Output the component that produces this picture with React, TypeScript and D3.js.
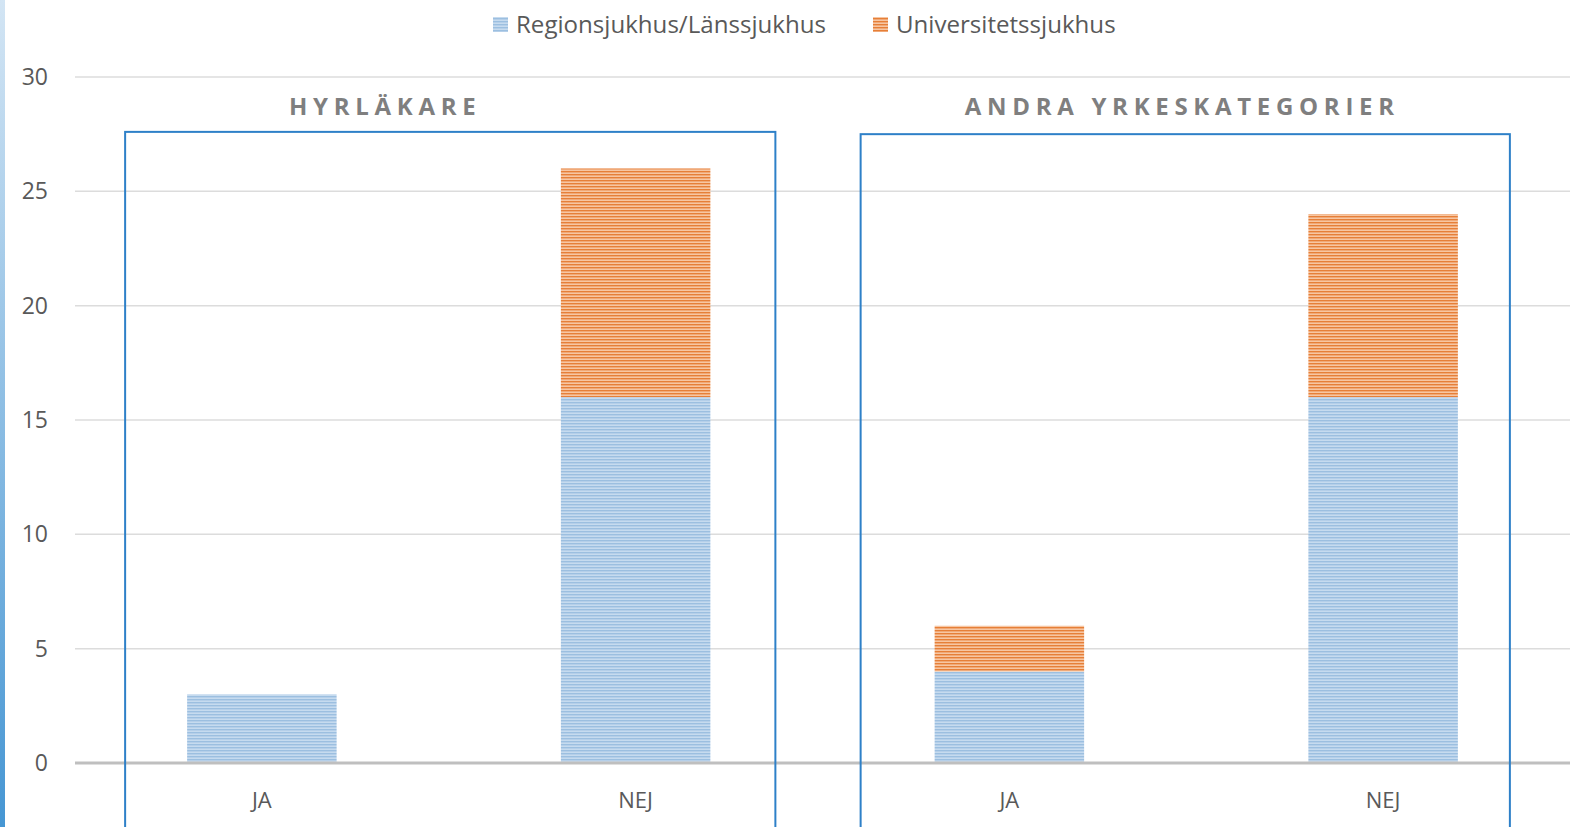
import React from 'react';
import * as d3 from 'd3';

// Data
const groups = ['HYRLÄKARE', 'ANDRA YRKESKATEGORIER'];
const answers = ['JA', 'NEJ'];
const seriesNames = ['Regionsjukhus/Länssjukhus', 'Universitetssjukhus'];
const regionValues = [3, 16, 4, 16];
const universityValues = [0, 10, 2, 8];
const yTicks = [0, 5, 10, 15, 20, 25, 30];

const W = 1570;
const H = 827;
const FONT = "'Open Sans', 'Liberation Sans', sans-serif";

// box edges relative to the outer bar edges, and title offset from box centre
const boxPad = [
  { left: 62, right: 65, top: 27.6, title: -65 },
  { left: 74, right: 52, top: 27.5, title: -3 },
];

const App = () => {
  const margin = { left: 75, right: 0, top: 77, bottom: 64 };
  const keys = groups.flatMap((g) => answers.map((a) => `${g}|${a}`));

  const x = d3.scaleBand().domain(keys).range([margin.left, W]).paddingInner(0.6).paddingOuter(0.3);
  const y = d3.scaleLinear().domain([0, 30]).range([H - margin.bottom, margin.top]);

  const rows = keys.map((k, i) => ({ key: k, region: regionValues[i], univ: universityValues[i] }));
  const stacked = d3.stack().keys(['region', 'univ'])(rows as any);
  const fills = ['url(#stripeBlue)', 'url(#stripeOrange)'];

  const bw = x.bandwidth();

  return (
    <svg width={W} height={H} style={{ position: 'absolute', left: 0, top: 0, background: '#fff' }}>
      <defs>
        <linearGradient id="edge" x1="0" y1="0" x2="0" y2="1">
          <stop offset="0" stopColor="#d3e5f4" />
          <stop offset="1" stopColor="#4696d3" />
        </linearGradient>
        <pattern id="stripeBlue" width="6" height="3" patternUnits="userSpaceOnUse">
          <rect width="6" height="3" fill="#c6dbef" />
          <rect width="6" height="1.4" fill="#9cbfe0" />
        </pattern>
        <pattern id="stripeOrange" width="6" height="3" patternUnits="userSpaceOnUse">
          <rect width="6" height="3" fill="#f7c6a2" />
          <rect width="6" height="1.4" fill="#e67f38" />
        </pattern>
      </defs>

      <rect x={0} y={0} width={5} height={H} fill="url(#edge)" />

      {/* legend */}
      <g fontFamily={FONT} fontSize={24.1} fill="#595959">
        <rect x={493} y={17} width={15} height={15} fill="url(#stripeBlue)" />
        <text x={516} y={33}>{seriesNames[0]}</text>
        <rect x={873} y={17} width={15} height={15} fill="url(#stripeOrange)" />
        <text x={896} y={33}>{seriesNames[1]}</text>
      </g>

      {/* gridlines */}
      {yTicks.filter((t) => t > 0).map((t) => (
        <line key={t} x1={margin.left} x2={W} y1={y(t)} y2={y(t)} stroke="#dcdcdc" strokeWidth={1.5} />
      ))}
      {yTicks.map((t) => (
        <text key={t} x={48} y={y(t) + 8} textAnchor="end" fontFamily={FONT} fontSize={23} fill="#595959">
          {t}
        </text>
      ))}

      {/* bars */}
      {stacked.map((s, si) => (
        <g key={si} fill={fills[si]}>
          {s.map((d: any, i) =>
            d[1] > d[0] ? (
              <rect key={i} x={x(keys[i])} y={y(d[1])} width={bw} height={y(d[0]) - y(d[1])} />
            ) : null
          )}
        </g>
      ))}

      <line x1={margin.left} x2={W} y1={y(0)} y2={y(0)} stroke="#bfbfbf" strokeWidth={3} />

      {/* category labels */}
      {keys.map((k) => (
        <text key={k} x={(x(k) as number) + bw / 2} y={y(0) + 45} textAnchor="middle" fontFamily={FONT} fontSize={22} fill="#595959">
          {k.split('|')[1]}
        </text>
      ))}

      {/* group boxes and titles */}
      {groups.map((g, gi) => {
        const p = boxPad[gi];
        const first = x(`${g}|JA`) as number;
        const last = (x(`${g}|NEJ`) as number) + bw;
        const left = first - p.left;
        const right = last + p.right;
        return (
          <g key={g}>
            <rect x={left} y={y(p.top)} width={right - left} height={H} fill="none" stroke="#2e80c8" strokeWidth={2} />
            <text x={(left + right) / 2 + p.title} y={y(28.7) + 8} textAnchor="middle" fontFamily={FONT} fontSize={24} fontWeight="bold" letterSpacing={5.7} fill="#7f7f7f">
              {g}
            </text>
          </g>
        );
      })}
    </svg>
  );
};

export default App;
